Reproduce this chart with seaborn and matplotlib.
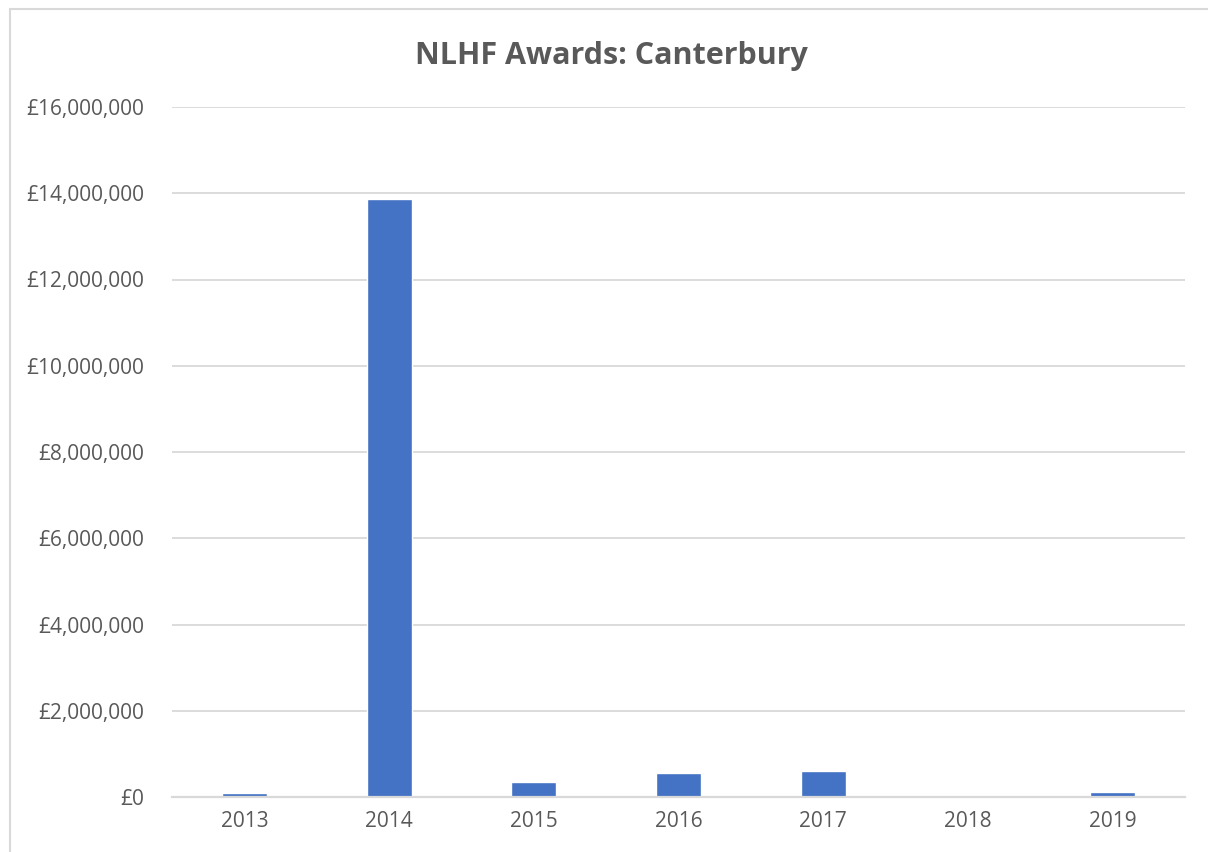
import matplotlib
matplotlib.use("Agg")
import matplotlib.pyplot as plt
import seaborn as sns
import pandas as pd
from matplotlib.ticker import FuncFormatter, MultipleLocator
from matplotlib.lines import Line2D

sns.set_theme(style="white")
plt.rcParams["font.family"] = ["Open Sans", "DejaVu Sans"]

# ---------------------------------------------------------------
# Data
# ---------------------------------------------------------------
years = ["2013", "2014", "2015", "2016", "2017", "2018", "2019"]
awards = [90000, 13870000, 350000, 555000, 605000, 25000, 120000]

df = pd.DataFrame({"Year": years, "Award": awards})

fig = plt.figure(figsize=(12.08, 8.52), dpi=100)
ax = fig.add_axes([172 / 1208, 1 - 797 / 852, (1185 - 172) / 1208, (797 - 107) / 852])

sns.barplot(data=df, x="Year", y="Award", color="#4472C4", saturation=1,
            width=0.31, ax=ax)

ax.set_ylim(0, 16000000)
ax.set_xlim(-0.5, len(years) - 0.5)
ax.yaxis.set_major_locator(MultipleLocator(2000000))
ax.yaxis.set_major_formatter(FuncFormatter(lambda v, p: f"£{v:,.0f}"))
ax.grid(axis="y", color="#D9D9D9", linewidth=1.3)
ax.set_axisbelow(True)
for s in ["top", "right", "left"]:
    ax.spines[s].set_visible(False)
ax.spines["bottom"].set_color("#D9D9D9")
ax.spines["bottom"].set_linewidth(1.6)
ax.tick_params(axis="both", length=0, labelsize=15, colors="#595959")
ax.tick_params(axis="y", pad=20)
ax.tick_params(axis="x", pad=10)
ax.set_xlabel("")
ax.set_ylabel("")

fig.text(0.506, 1 - 56 / 852, "NLHF Awards: Canterbury", ha="center", va="center",
         fontsize=22, fontweight="bold", color="#595959")

# chart-area border
fig.add_artist(Line2D([10 / 1208, 10 / 1208], [0, 1 - 9 / 852], transform=fig.transFigure,
                      color="#D9D9D9", linewidth=1.5))
fig.add_artist(Line2D([10 / 1208, 1], [1 - 9 / 852, 1 - 9 / 852], transform=fig.transFigure,
                      color="#D9D9D9", linewidth=1.5))

fig.savefig("out.png", dpi=100)
